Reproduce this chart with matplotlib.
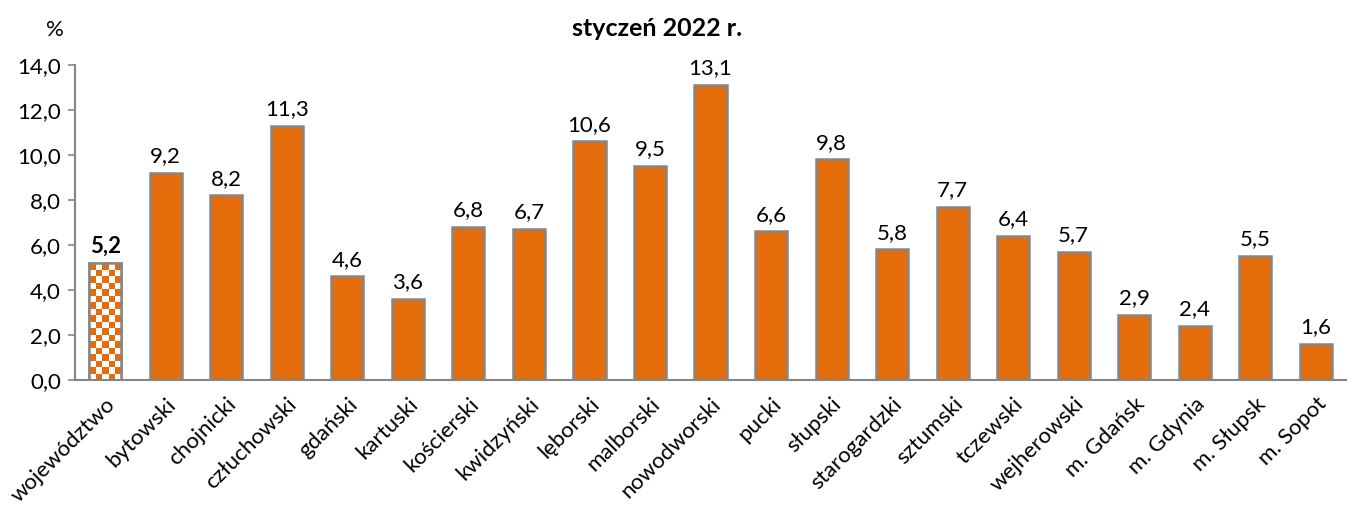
import matplotlib.pyplot as plt
import numpy as np

plt.rcParams['font.family'] = ['Lato', 'DejaVu Sans']

categories = ['województwo', 'bytowski', 'chojnicki', 'człuchowski', 'gdański',
              'kartuski', 'kościerski', 'kwidzyński', 'lęborski', 'malborski',
              'nowodworski', 'pucki', 'słupski', 'starogardzki', 'sztumski',
              'tczewski', 'wejherowski', 'm. Gdańsk', 'm. Gdynia', 'm. Słupsk',
              'm. Sopot']
values = [5.2, 9.2, 8.2, 11.3, 4.6, 3.6, 6.8, 6.7, 10.6, 9.5, 13.1, 6.6, 9.8,
          5.8, 7.7, 6.4, 5.7, 2.9, 2.4, 5.5, 1.6]
yticks = [0, 2, 4, 6, 8, 10, 12, 14]

orange = '#E46C0A'
grey = '#868686'
fs = 16

fig = plt.figure(figsize=(13.68, 5.07), dpi=100)
ax = fig.add_axes([0.0548, 0.2505, 0.9292, 0.6213])

x = np.arange(len(categories))
colors = ['white'] + [orange] * (len(values) - 1)
bars = ax.bar(x, values, width=0.53, color=colors, edgecolor=grey, linewidth=1.8, zorder=2)

# checkerboard fill for the first bar (województwo)
b = bars[0]
bx, by, bw, bh = b.get_x(), b.get_y(), b.get_width(), b.get_height()
ncol = 5
cell_px = bw * 60.5 / ncol
nrow = int(round(bh * 22.5 / cell_px))
checker = np.add.outer(np.arange(nrow), np.arange(ncol)) % 2
cmap = plt.matplotlib.colors.ListedColormap(['white', orange])
im = ax.imshow(checker, cmap=cmap, extent=[bx, bx + bw, by, by + bh],
               origin='lower', aspect='auto', interpolation='nearest', zorder=2.5)
im.set_clip_path(b)
ax.bar(x[:1], values[:1], width=0.53, color='none', edgecolor=grey, linewidth=1.8, zorder=3)

for i, v in enumerate(values):
    ax.text(i, v + 0.3, f'{v:.1f}'.replace('.', ','), ha='center', va='bottom',
            fontsize=fs, fontweight='bold' if i == 0 else 'normal')

ax.set_xlim(-0.5, len(categories) - 0.5)
ax.set_ylim(0, 14)
ax.set_yticks(yticks)
ax.set_yticklabels([f'{t:.1f}'.replace('.', ',') for t in yticks], fontsize=fs)
ax.set_xticks(x)
ax.set_xticklabels(categories, rotation=45, ha='right', rotation_mode='anchor', fontsize=fs)
ax.tick_params(axis='x', length=0, pad=10)
ax.tick_params(axis='y', length=5, color=grey, width=1.2, pad=5)
for s in ['top', 'right']:
    ax.spines[s].set_visible(False)
for s in ['left', 'bottom']:
    ax.spines[s].set_color(grey)
    ax.spines[s].set_linewidth(1.5)

fig.text(0.04, 0.94, '%', fontsize=fs, ha='center', va='center')
fig.text(0.480, 0.943, 'styczeń 2022 r.', fontsize=18, fontweight='bold', ha='center', va='center')

fig.savefig('out.png', dpi=100)
